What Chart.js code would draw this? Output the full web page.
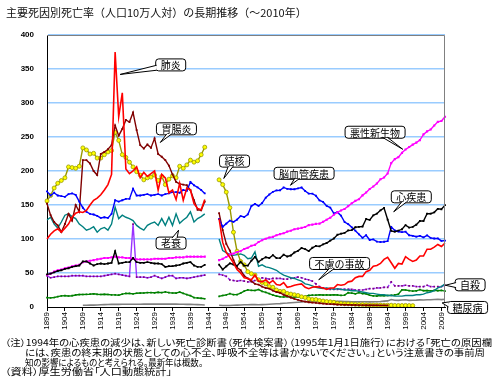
<!DOCTYPE html>
<html>
<head>
<meta charset="utf-8">
<script src="https://cdn.jsdelivr.net/npm/chart.js@4.4.1/dist/chart.umd.min.js"></script>
<style>
body { margin: 0; background: #fff; }
#wrap { position: relative; width: 500px; height: 392px; overflow: hidden; font-family: "Noto Sans CJK JP", sans-serif; }
#c { position: absolute; left: 0; top: 0; }
.t { position: absolute; white-space: nowrap; color: #000; }
.note { font-size: 9px; line-height: 10px; font-feature-settings: "palt"; transform-origin: 0 50%; }
</style>
</head>
<body>
<div id="wrap">
  <canvas id="c" width="500" height="392"></canvas>
  <div class="t" style="left:6px;top:4px;font-size:11px;line-height:17px;color:#111;">主要死因別死亡率（人口10万人対）の長期推移（～2010年）</div>
  <div class="t note" data-w="487" style="left:5px;top:338px;">（注）1994年の心疾患の減少は、新しい死亡診断書（死体検案書）（1995年1月1日施行）における「死亡の原因欄</div>
  <div class="t note" data-w="460" style="left:25px;top:348px;">には、疾患の終末期の状態としての心不全、呼吸不全等は書かないでください。」という注意書きの事前周</div>
  <div class="t note" data-w="178" style="left:25px;top:358px;">知の影響によるものと考えられる。最新年は概数。</div>
  <div class="t note" data-w="167" style="left:5px;top:367px;">（資料）厚生労働省「人口動態統計」</div>
</div>
<script>
// categories: 1899 .. 2010 (no data 1944-1946)
const years = [];
for (let y = 1899; y <= 2010; y++) years.push(String(y));
const gap = [null, null, null];

// values per 100k, pre-war 1899-1943, post-war 1947-2010
const pneumoniaPre = [100,107,112,115,110,116,122,132,138,140, 139,142,150,157,160,165,172,180,195,375,
  280,315,203,196,200,206,190,198,192,196, 200,172,195,190,168,172,158,182,157,175, 172,152,145,143,158];
const pneumoniaPost = [130,95,80,73,65,55,50,43,42,40, 47,38,37,40,35,39,33,32,36,29,
  30,32,33,34,29,27,29,30,29,28, 26,28,28,33,32,33,37,38,43,45, 45,52,54,60,61,64,70,73,65,57,
  64,63,74,70,67,69,75,75,85,85, 88,92,89,94];

const gastroPre = [152,135,125,120,110,122,137,127,150,140, 216,216,211,200,194,225,228,232,238,267,
  252,262,275,272,286,260,238,233,239,234, 248,225,221,216,208,195,184,181,180,179, 172,157,143,142,155];
const gastroPost = [138,113,93,83,69,58,54,46,42,38, 34,33,30,28,27,24,22,21,18,16,
  14,12,10.5,9,8,7,6.5,6,5.5,5, 4.5,4.2,4,3.7,3.5,3.3,3.2,3,2.9,2.8, 2.7,2.6,2.6,2.5,2.5,2.4,2.4,2.3,
  null,null,null,null,null,null,null,null,null,null,null,null,null,null,null,null];

const tbPre = [156,164,175,182,186,190,206,205,204,207, 234,231,225,226,219,219,224,228,230,257,
  245,224,220,213,206,199,194,187,190,191, 194,186,192,180,188,193,190,207,204,209, 216,213,215,224,235];
const tbPost = [187,180,169,146,110,82,67,62,52,49, 47,40,36,34,30,29,25,23,23,20,
  19,18,17,15,14,12,11,11,9.5,8.8, 8,7.6,6.9,5.5,5.2,4.7,4.6,4.4,3.9,3.7, 3.5,3.2,3.1,3.0,2.8,2.8,2.6,2.6,2.6,2.3,
  2.2,2.2,2.3,2.1,2.0, null,null,null,null,null,null,null,null,null];

const senilityPre = [128,132,122,116,125,135,137,133,130,122, 118,113,115,118,110,115,117,113,122,147,
  130,135,132,130,127,120,116,113,120,123, 125,120,130,120,132,120,137,123,128,132, 140,125,130,133,137];
const senilityPost = [100,83,80,77,76,77,78,76,71,72, 81,60,62,59,58,56,54,50,47,45,
  43,42,40,38,34,33,31,29,28,27, 28,27,26,27,26,25,25,24,24,23, 22,21,20,20,19,18,18,17,17,16,
  16,16,17,17,17,18,18,19,21,22, 24,28,30,34];

const cvdPre = [170,164,168,164,163,162,166,167,165,155, 146,140,137,136,134,131,132,131,137,157,
  155,157,159,159,174,164,164,165,166,164, 165,166,164,166,167,169,169,168,172,171, 184,179,176,172,167];
const cvdPost = [129.4,117.9,122.6,127.1,125.2,128.5,133.7,132.4,136.1,148.4,
  151.7,148.6,152.9,160.7,165.4,169.4,171.4,171.7,175.8,173.8,
  173.1,173.2,174.4,175.8,170.6,166.7,166.7,163.6,156.7,154.5,
  148.6,146.2,137.7,139.5,134.3,125.0,121.8,117.2,112.2,106.9,
  101.7,105.5,98.5,99.4,96.2,95.6,96.0,96.9,117.9,112.6,
  111.0,110.0,110.8,105.5,104.7,103.4,104.7,102.3,105.3,101.7,
  100.8,100.9,97.2,97.7];

const cancerPre = [47,49,52,54,55,57,58,60,61,62, 66,67,68,69,70,71,72,72,73,74,
  73,73,72,72,71,70,70,70,70,70, 71,71,71,71,72,72,73,73,73,74, 74,74,74,74,74];
const cancerPost = [69.0,70.8,73.6,77.4,78.5,80.9,82.2,85.3,87.1,90.1,
  91.3,95.5,98.2,100.4,102.3,103.2,105.5,107.2,108.4,110.8,
  112.2,114.3,115.3,116.3,117.7,120.4,121.2,122.2,122.6,125.3,
  128.4,131.3,135.7,139.1,142.0,144.2,148.3,152.5,156.1,158.5,
  164.2,168.4,173.6,177.2,181.7,187.8,190.4,196.4,211.6,217.5,
  220.4,226.7,231.6,235.2,238.8,241.7,245.4,253.9,258.3,261.0,
  266.9,272.3,273.5,279.7];

const heartPre = [48,49,51,53,54,56,57,59,60,61, 67,67,64,61,63,64,63,64,65,82,
  64,65,66,66,72,66,65,65,66,65, 64,64,63,59,60,60,61,62,64,65, 66,61,59,59,62];
const heartPost = [62.2,55.2,59.7,64.2,62.5,60.5,66.5,60.9,60.9,68.1,
  73.6,66.4,70.2,73.2,72.1,76.2,72.0,71.9,77.0,74.2,
  75.7,80.2,82.6,86.7,85.2,82.2,87.1,89.8,89.2,92.0,
  94.1,97.5,100.7,106.2,107.8,108.9,112.6,113.1,117.3,117.9,
  118.4,129.4,128.1,134.8,137.2,142.2,145.6,128.6,112.0,110.8,
  112.2,114.3,120.4,116.8,117.8,121.0,126.5,126.5,137.2,137.2,
  139.2,144.4,143.7,149.8];

const accidentPre = [46,43,44,45,45,45,45,46,46,46, 46,45,45,45,45,45,46,47,48,49,
  48,47,46,45,122,44,44,44,43,44, 46,44,42,44,46,46,42,43,43,42, 43,44,45,46,47];
const accidentPost = [48,47,45,40,39,38,39,38,37,37, 39,39,43,42,41,42,42,42,41,41,
  42,43,44,43,41,40,38,34,30,28, 27,26,26,26,26,26,26,26,25,25, 25,26,27,27,28,28,29,29,37,31,
  31,31,32,31,31,30,30,30,32,30, 30,30,30,32];

const suicidePre = [13.7,13.4,14.0,15.2,16.3,16.6,16.2,16.6,17.7,18.3, 18.4,18.5,18.8,19.4,18.7,18.4,18.7,18.4,17.9,17.8,
  17.4,19.0,20.0,19.9,19.3,20.2,20.5,20.6,21.1,21.2, 20.9,21.6,21.1,22.2,21.2,20.6,20.5,22.0,20.0,18.1,
  16.6,13.7,13.3,12.8,12.1];
const suicidePost = [15.7,16.9,17.9,19.6,18.2,18.2,20.3,23.4,25.2,24.5, 24.3,25.7,23.0,21.6,19.6,17.6,16.1,15.1,14.7,15.2,
  14.2,14.5,14.5,15.3,15.6,17.0,17.4,17.5,18.0,17.6, 17.9,17.6,18.0,17.7,17.1,17.5,21.0,20.4,19.4,21.2,
  19.6,19.4,17.3,16.4,16.1,16.9,16.6,16.9,17.2,17.8, 18.8,25.4,25.0,24.1,23.3,23.8,25.5,24.0,24.2,23.7,
  24.4,24.0,24.4,23.4];

const diabetesPre = [null,null,null,null,null,null,null,null,null,null, 2.5,2.6,2.7,2.8,3.0,3.3,3.5,3.6,3.8,4.0,
  3.9,4.0,4.0,4.1,4.0,4.1,4.1,4.2,4.2,4.3, 4.3,4.2,4.3,4.3,4.4,4.3,4.3,4.1,4.0,3.9, 3.8,3.7,3.5,3.3,3.0];
const diabetesPost = [2.5,2.3,2.2,2.3,2.5,2.7,3.0,3.2,3.4,3.6, 3.5,3.4,3.5,3.6,4.0,4.4,4.7,5.0,5.6,5.8,
  6.2,6.6,7.1,7.5,7.8,8.0,8.3,8.8,8.9,8.6, 8.6,8.5,8.4,8.3,8.2,8.0,7.9,7.8,7.8,7.8,
  7.7,7.8,7.6,7.7,7.8,8.0,8.6,9.0,11.0,9.9, 9.8,10.4,10.7,9.8,9.9,10.1,10.5,10.2,10.7,10.6,
  11.1,11.3,10.9,11.4];

const yTicks = [0, 50, 100, 150, 200, 250, 300, 350, 400];

// callout labels: box centre and pointer tip, in (year, value)
const callouts = [
  { text: '肺炎', box: [1933.5, 356], tip: [1919.4, 342] },
  { text: '胃腸炎', box: [1935.1, 262], tip: [1930.6, 242] },
  { text: '結核', box: [1951.3, 214.5], tip: [1948.3, 189] },
  { text: '老衰', box: [1933.6, 94], tip: [1935.7, 113] },
  { text: '悪性新生物', box: [1990.5, 257], tip: [1998.2, 232] },
  { text: '脳血管疾患', box: [1970.7, 196.6], tip: [1966.9, 179] },
  { text: '心疾患', box: [2000.6, 162], tip: [1995.7, 140] },
  { text: '不慮の事故', box: [1980.6, 64], tip: [1974.8, 40] },
  { text: '自殺', box: [2017, 32.6], tip: [2010.1, 32] },
  { text: '糖尿病', box: [2016.3, -0.7], tip: [2009.2, 6] }
];

const join = (a, b) => a.concat(gap, b);

function line(label, data, color, extra) {
  return Object.assign({
    label: label, data: data, borderColor: color, backgroundColor: color,
    borderWidth: 1.4, pointRadius: 0, pointHoverRadius: 0, pointBorderWidth: 0,
    pointStyle: 'rect', fill: false, tension: 0, spanGaps: false
  }, extra || {});
}

const frame = {
  id: 'frame',
  afterDatasetsDraw(chart) {
    const a = chart.chartArea, ctx = chart.ctx;
    ctx.save();
    ctx.strokeStyle = '#808080';
    ctx.lineWidth = 1;
    ctx.beginPath();
    ctx.moveTo(a.left, a.top + 0.5);
    ctx.lineTo(a.right - 0.5, a.top + 0.5);
    ctx.lineTo(a.right - 0.5, a.bottom);
    ctx.stroke();
    ctx.restore();
  }
};

const balloons = {
  id: 'balloons',
  afterDraw(chart) {
    const ctx = chart.ctx, xs = chart.scales.x, ys = chart.scales.y;
    ctx.save();
    ctx.font = '10px "Noto Sans CJK JP"';
    ctx.textAlign = 'center';
    ctx.textBaseline = 'middle';
    callouts.forEach(c => {
      const cx = xs.getPixelForValue(c.box[0] - 1899), cy = ys.getPixelForValue(c.box[1]);
      const tx = xs.getPixelForValue(c.tip[0] - 1899), ty = ys.getPixelForValue(c.tip[1]);
      const w = ctx.measureText(c.text).width + 10, h = 12;
      const l = cx - w / 2, t = cy - h / 2, r = cx + w / 2, b = cy + h / 2;
      ctx.beginPath();
      ctx.roundRect(l, t, w, h, 3);
      ctx.fillStyle = '#fff';
      ctx.fill();
      ctx.strokeStyle = '#000';
      ctx.lineWidth = 1;
      ctx.stroke();
      // tail
      const dx = tx - cx, dy = ty - cy;
      let b1, b2;
      if (Math.abs(dx) / (w / 2) > Math.abs(dy) / (h / 2)) {
        const ex = dx < 0 ? l + 1 : r - 1;
        const ey = Math.max(t + 3, Math.min(b - 3, cy + dy * (w / 2) / Math.abs(dx)));
        b1 = [ex, ey - 2.5]; b2 = [ex, ey + 2.5];
      } else {
        const ey = dy < 0 ? t + 1 : b - 1;
        const ex = Math.max(l + 4, Math.min(r - 4, cx + dx * (h / 2) / Math.abs(dy)));
        b1 = [ex - 2.5, ey]; b2 = [ex + 2.5, ey];
      }
      ctx.beginPath();
      ctx.moveTo(b1[0], b1[1]);
      ctx.lineTo(tx, ty);
      ctx.lineTo(b2[0], b2[1]);
      ctx.closePath();
      ctx.fill();
      ctx.beginPath();
      ctx.moveTo(b1[0], b1[1]);
      ctx.lineTo(tx, ty);
      ctx.lineTo(b2[0], b2[1]);
      ctx.stroke();
      ctx.fillStyle = '#000';
      ctx.fillText(c.text, cx, cy + 0.5);
    });
    ctx.restore();
  }
};

new Chart(document.getElementById('c'), {
  type: 'line',
  data: {
    labels: years,
    datasets: [
      line('肺炎', join(pneumoniaPre, pneumoniaPost), '#ff0000', { borderWidth: 1.6 }),
      line('心疾患', join(heartPre, heartPost), '#000000', { pointRadius: 1.3 }),
      line('悪性新生物', join(cancerPre, cancerPost), '#ff00ff', { pointRadius: 1.5 }),
      line('脳血管疾患', join(cvdPre, cvdPost), '#0000ff', { pointRadius: 1.3 }),
      line('胃腸炎', join(gastroPre, gastroPost), '#800000', { pointRadius: 1.3 }),
      line('結核', join(tbPre, tbPost), '#999900', {
        pointStyle: 'circle', pointRadius: 2, pointBackgroundColor: '#ffff00',
        pointBorderColor: '#999900', pointBorderWidth: 0.8
      }),
      line('老衰', join(senilityPre, senilityPost), '#008080'),
      line('不慮の事故', join(accidentPre, accidentPost), '#9933ff', {
        pointRadius: 1.2, pointBackgroundColor: '#800080',
        segment: { borderDash: ctx => ctx.p0DataIndex > 47 ? [3, 2] : undefined }
      }),
      line('自殺', join(suicidePre, suicidePost), '#008000', { pointRadius: 1.2 }),
      line('糖尿病', join(diabetesPre, diabetesPost), '#808080', { borderWidth: 1.6 })
    ]
  },
  options: {
    responsive: false,
    animation: false,
    devicePixelRatio: 1,
    layout: { padding: { left: 0, right: 55, top: 35, bottom: 59 } },
    plugins: { legend: { display: false }, tooltip: { enabled: false }, title: { display: false } },
    scales: {
      x: {
        type: 'category',
        afterFit(s) { s.height = 26; },
        grid: {
          drawOnChartArea: false, drawTicks: true, tickLength: 4,
          color: ctx => ctx.index % 5 === 0 ? '#000' : 'rgba(0,0,0,0)'
        },
        border: { display: true, color: '#000', width: 1 },
        ticks: {
          autoSkip: false, minRotation: 90, maxRotation: 90, padding: 1,
          color: '#000', font: { family: 'Liberation Sans', size: 8 },
          callback: function (v, i) { return i % 5 === 0 ? this.getLabelForValue(v) : ''; }
        }
      },
      y: {
        min: 0, max: 400,
        afterFit(s) { s.width = 47; },
        afterBuildTicks(s) { s.ticks = yTicks.map(v => ({ value: v })); },
        grid: {
          drawTicks: false, lineWidth: 1.5,
          color: ctx => ctx.tick && ctx.tick.value === 0 ? 'rgba(0,0,0,0)' : '#99ccff'
        },
        border: { display: true, color: '#000', width: 1 },
        ticks: { padding: 13, color: '#000', font: { family: 'Liberation Sans', size: 8, weight: 'bold' } }
      }
    }
  },
  plugins: [frame, balloons]
});

// stretch each note line to the width it has in the original
function fitNotes() {
  document.querySelectorAll('.note').forEach(el => {
    el.style.transform = 'none';
    const w = el.getBoundingClientRect().width;
    if (w > 0) el.style.transform = 'scaleX(' + (Number(el.dataset.w) / w) + ')';
  });
}
fitNotes();
if (document.fonts && document.fonts.ready) document.fonts.ready.then(fitNotes);
</script>
</body>
</html>
